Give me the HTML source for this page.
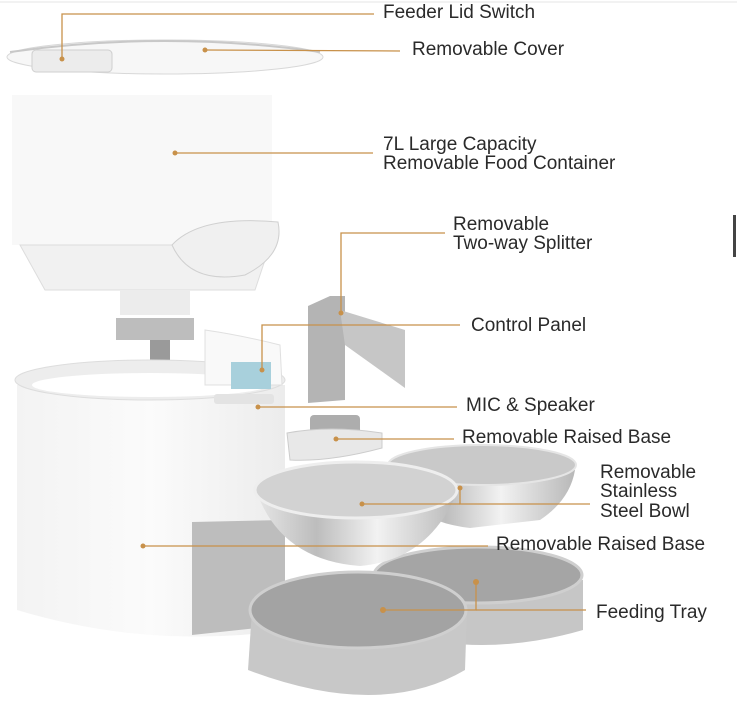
<!DOCTYPE html>
<html><head><meta charset="utf-8"><style>
html,body{margin:0;padding:0;background:#fff;width:737px;height:702px;overflow:hidden}
text{font-family:"Liberation Sans",sans-serif;font-size:19px;fill:#2a2a2a}
</style></head><body>
<svg width="737" height="702" viewBox="0 0 737 702" xmlns="http://www.w3.org/2000/svg">
<defs>
<linearGradient id="steel" x1="0" x2="1" y1="0" y2="0">
<stop offset="0" stop-color="#e6e6e6"/><stop offset="0.3" stop-color="#bdbdbd"/><stop offset="0.6" stop-color="#f2f2f2"/><stop offset="1" stop-color="#b8b8b8"/></linearGradient>
<linearGradient id="gbody" x1="0" x2="1"><stop offset="0" stop-color="#f3f3f3"/><stop offset="0.5" stop-color="#fbfbfb"/><stop offset="1" stop-color="#ececec"/></linearGradient>
</defs>
<line x1="0" y1="2" x2="737" y2="2" stroke="#e4e4e4" stroke-width="1"/>
<rect x="733" y="215" width="3" height="42" fill="#444"/>
<ellipse cx="165" cy="57" rx="158" ry="17" fill="#f7f7f7" stroke="#d8d8d8"/>
<path d="M10 52 Q165 30 320 52" fill="none" stroke="#c8c8c8" stroke-width="2"/>
<rect x="32" y="50" width="80" height="22" rx="4" fill="#ececec" stroke="#cfcfcf"/>
<rect x="12" y="95" width="260" height="150" fill="#f8f8f8"/>
<path d="M20 245 L270 245 L255 290 L45 290 Z" fill="#f1f1f1" stroke="#ddd"/>
<path d="M172 245 Q200 215 278 222 Q285 255 245 275 Q190 285 172 245Z" fill="#f0f0f0" stroke="#d0d0d0"/>
<rect x="120" y="290" width="70" height="25" fill="#ececec"/>
<rect x="116" y="318" width="78" height="22" fill="#bdbdbd"/>
<rect x="150" y="340" width="20" height="22" fill="#9a9a9a"/>
<path d="M17 385 L285 385 L285 630 Q150 650 17 610 Z" fill="url(#gbody)"/>
<ellipse cx="150" cy="380" rx="135" ry="20" fill="#ededed" stroke="#ddd"/>
<ellipse cx="150" cy="385" rx="118" ry="12" fill="#fff"/>
<path d="M205 385 L205 330 Q240 335 280 345 L282 385 Z" fill="#f9f9f9" stroke="#e0e0e0"/>
<rect x="231" y="362" width="40" height="27" fill="#a8d0dc"/>
<rect x="214" y="394" width="60" height="10" rx="3" fill="#e3e3e3"/>
<path d="M192 522 L285 520 L285 625 L192 635 Z" fill="#bdbdbd"/>
<path d="M308 306 L330 296 L345 296 L345 400 L308 403 Z" fill="#b4b4b4"/>
<path d="M340 310 L405 330 L405 388 L345 345 Z" fill="#c6c6c6"/>
<rect x="310" y="415" width="50" height="20" rx="4" fill="#adadad"/>
<path d="M287 433 Q330 425 382 433 L382 448 Q330 462 290 460 Z" fill="#e8e8e8" stroke="#ccc"/>
<path d="M384 575 L385 630 Q480 660 583 630 L583 580 Z" fill="#c6c6c6"/>
<ellipse cx="478" cy="575" rx="104" ry="28" fill="#a5a5a5" stroke="#cfcfcf" stroke-width="3"/>
<path d="M252 610 L248 670 Q380 720 465 670 L467 610 Z" fill="#c8c8c8"/>
<ellipse cx="358" cy="610" rx="108" ry="38" fill="#a3a3a3" stroke="#cfcfcf" stroke-width="3"/>
<path d="M390 465 Q400 520 470 528 L540 520 Q570 500 575 470 Z" fill="url(#steel)"/>
<ellipse cx="482" cy="465" rx="94" ry="20" fill="#c9c9c9" stroke="#e5e5e5" stroke-width="2"/>
<path d="M256 490 Q280 560 360 566 Q430 560 458 490 Z" fill="url(#steel)"/>
<ellipse cx="356" cy="490" rx="101" ry="28" fill="#d2d2d2" stroke="#eee" stroke-width="3"/>
<g stroke="#c8914a" stroke-width="1.3" fill="none">
<polyline points="62,59 62,14 374,14"/>
<line x1="205" y1="50" x2="400" y2="51"/>
<line x1="175" y1="153" x2="373" y2="153"/>
<polyline points="341,313 341,233 445,233"/>
<polyline points="262,370 262,325 460,325"/>
<line x1="258" y1="407" x2="457" y2="407"/>
<line x1="336" y1="439" x2="454" y2="439"/>
<polyline points="460,488 460,504 590,504"/>
<line x1="362" y1="504" x2="460" y2="504"/>
<line x1="143" y1="546" x2="488" y2="546"/>
<polyline points="383,610 476,610 476,582"/>
<line x1="476" y1="610" x2="586" y2="610"/>
</g>
<g fill="#c8914a">
<circle cx="62" cy="59" r="2.5"/><circle cx="205" cy="50" r="2.5"/><circle cx="175" cy="153" r="2.5"/>
<circle cx="341" cy="313" r="2.5"/><circle cx="262" cy="370" r="2.5"/><circle cx="258" cy="407" r="2.5"/>
<circle cx="336" cy="439" r="2.5"/><circle cx="460" cy="488" r="2.5"/><circle cx="362" cy="504" r="2.5"/>
<circle cx="143" cy="546" r="2.5"/><circle cx="383" cy="610" r="3"/><circle cx="476" cy="582" r="3"/>
</g>
<text x="383" y="18">Feeder Lid Switch</text>
<text x="412" y="55">Removable Cover</text>
<text x="383" y="150">7L Large Capacity</text>
<text x="383" y="169">Removable Food Container</text>
<text x="453" y="230">Removable</text>
<text x="453" y="249">Two-way Splitter</text>
<text x="471" y="331">Control Panel</text>
<text x="466" y="411">MIC &amp; Speaker</text>
<text x="462" y="443">Removable Raised Base</text>
<text x="600" y="478">Removable</text>
<text x="600" y="497">Stainless</text>
<text x="600" y="517">Steel Bowl</text>
<text x="496" y="550">Removable Raised Base</text>
<text x="596" y="618">Feeding Tray</text>
</svg>
</body></html>
